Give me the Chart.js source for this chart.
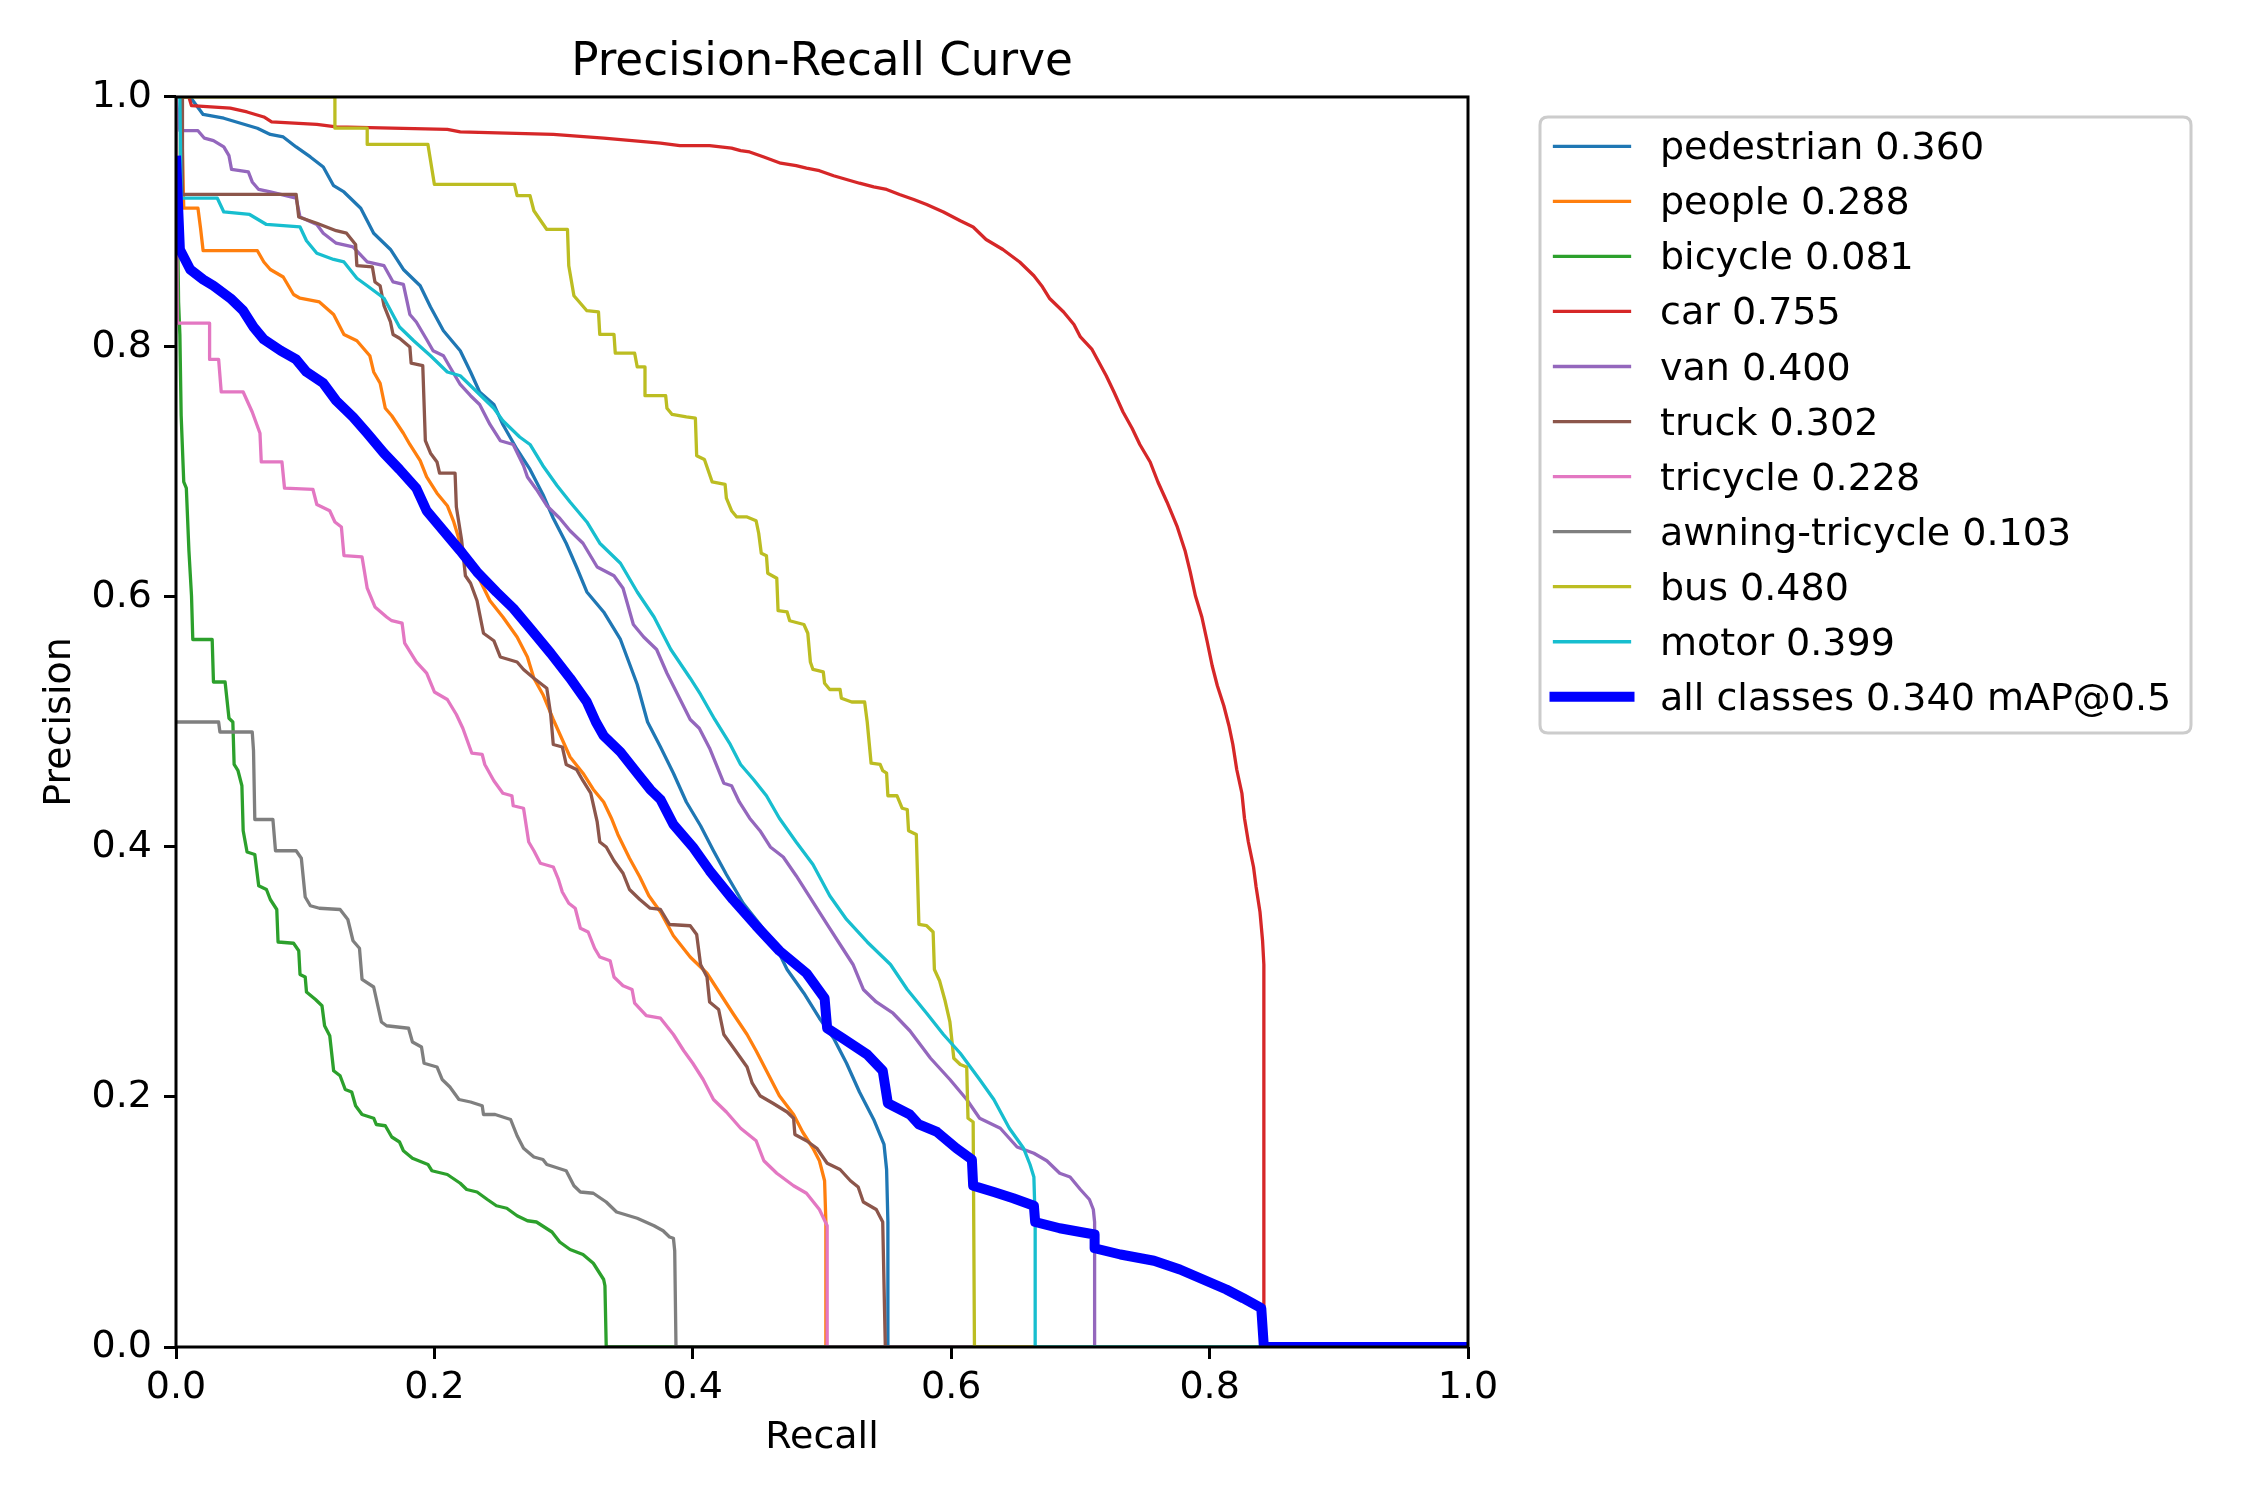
<!DOCTYPE html>
<html>
<head>
<meta charset="utf-8">
<script src="https://cdn.jsdelivr.net/npm/chart.js@4.4.1/dist/chart.umd.min.js"></script>
<style>
html,body{margin:0;padding:0;background:#ffffff;}
#c{display:block;}
</style>
</head>
<body>
<canvas id="c" width="2250" height="1500"></canvas>
<script>
// ---------- data ----------
const classNames = ['pedestrian','people','bicycle','car','van','truck','tricycle','awning-tricycle','bus','motor'];
const apValues   = [0.360, 0.288, 0.081, 0.755, 0.400, 0.302, 0.228, 0.103, 0.480, 0.399];
const mapAll = 0.340;
const xTicks = [0, 0.2, 0.4, 0.6, 0.8, 1.0];
const yTicks = [0, 0.2, 0.4, 0.6, 0.8, 1.0];

const pedestrianRecall = [0,0.011,0.021,0.037,0.063,0.073,0.083,0.093,0.104,0.114,0.122,0.130,0.143,0.153,0.166,0.176,0.189,0.197,0.207,0.220,0.228,0.235,0.246,0.253,0.264,0.274,0.284,0.292,0.302,0.310,0.318,0.331,0.344,0.357,0.365,0.375,0.385,0.395,0.406,0.416,0.426,0.439,0.452,0.465,0.473,0.486,0.498,0.509,0.519,0.529,0.540,0.548,0.550,0.551,0.551,1.0];
const pedestrianPrecision = [1,1,0.986,0.983,0.975,0.970,0.968,0.960,0.952,0.944,0.929,0.924,0.911,0.891,0.878,0.862,0.849,0.832,0.813,0.797,0.780,0.764,0.754,0.738,0.718,0.702,0.682,0.663,0.643,0.624,0.604,0.588,0.566,0.530,0.500,0.480,0.459,0.436,0.417,0.397,0.378,0.355,0.338,0.319,0.302,0.283,0.263,0.247,0.227,0.204,0.182,0.162,0.142,0.100,0,0];

const peopleRecall = [0,0.004,0.006,0.017,0.019,0.021,0.063,0.068,0.073,0.083,0.091,0.096,0.111,0.122,0.130,0.140,0.150,0.153,0.158,0.162,0.167,0.176,0.181,0.189,0.194,0.202,0.210,0.215,0.220,0.228,0.235,0.243,0.253,0.264,0.272,0.277,0.284,0.292,0.305,0.315,0.323,0.331,0.337,0.342,0.351,0.359,0.366,0.375,0.385,0.398,0.411,0.421,0.431,0.442,0.449,0.457,0.467,0.478,0.485,0.493,0.498,0.502,0.503,0.503,1.0];
const peoplePrecision = [1,1,0.911,0.911,0.895,0.877,0.877,0.868,0.862,0.856,0.842,0.839,0.836,0.826,0.810,0.805,0.793,0.780,0.771,0.751,0.745,0.731,0.722,0.709,0.696,0.683,0.673,0.660,0.643,0.627,0.614,0.597,0.584,0.568,0.552,0.535,0.522,0.502,0.472,0.459,0.446,0.436,0.423,0.410,0.391,0.376,0.361,0.348,0.329,0.312,0.299,0.283,0.267,0.250,0.237,0.221,0.201,0.186,0.172,0.159,0.149,0.133,0.100,0,0];

const bicycleRecall = [0,0.002,0.003,0.004,0.006,0.008,0.010,0.012,0.013,0.028,0.029,0.038,0.041,0.044,0.045,0.048,0.051,0.052,0.055,0.061,0.064,0.070,0.073,0.078,0.079,0.091,0.095,0.096,0.100,0.101,0.108,0.113,0.115,0.119,0.122,0.127,0.131,0.136,0.139,0.144,0.153,0.155,0.162,0.167,0.173,0.176,0.183,0.195,0.198,0.210,0.220,0.225,0.233,0.241,0.248,0.256,0.264,0.272,0.279,0.291,0.297,0.305,0.315,0.323,0.331,0.332,0.333,1.0];
const bicyclePrecision = [1,0.836,0.810,0.745,0.692,0.687,0.637,0.601,0.566,0.566,0.532,0.532,0.503,0.500,0.466,0.461,0.449,0.413,0.396,0.394,0.369,0.366,0.358,0.350,0.324,0.323,0.317,0.298,0.296,0.284,0.278,0.273,0.257,0.249,0.221,0.217,0.206,0.204,0.193,0.186,0.183,0.178,0.177,0.168,0.164,0.157,0.151,0.146,0.141,0.138,0.131,0.126,0.124,0.118,0.113,0.111,0.105,0.101,0.100,0.092,0.084,0.078,0.074,0.067,0.054,0.049,0,0];

const carRecall = [0,0.010,0.012,0.042,0.055,0.068,0.074,0.109,0.124,0.210,0.220,0.292,0.331,0.375,0.390,0.413,0.430,0.437,0.444,0.455,0.468,0.480,0.488,0.498,0.509,0.519,0.529,0.540,0.550,0.560,0.571,0.581,0.594,0.607,0.617,0.627,0.640,0.653,0.664,0.670,0.676,0.687,0.695,0.700,0.709,0.720,0.726,0.733,0.740,0.746,0.754,0.760,0.767,0.775,0.781,0.785,0.789,0.794,0.798,0.802,0.806,0.811,0.815,0.818,0.821,0.825,0.827,0.830,0.834,0.836,0.839,0.841,0.842,0.842,0.842,1.0];
const carPrecision = [1,1,0.993,0.991,0.988,0.984,0.980,0.978,0.976,0.974,0.972,0.970,0.967,0.963,0.961,0.961,0.959,0.957,0.956,0.952,0.947,0.945,0.943,0.941,0.937,0.934,0.931,0.928,0.926,0.922,0.918,0.914,0.908,0.901,0.896,0.886,0.878,0.868,0.857,0.849,0.839,0.828,0.818,0.808,0.798,0.777,0.764,0.748,0.735,0.722,0.708,0.692,0.676,0.656,0.637,0.620,0.601,0.584,0.565,0.545,0.529,0.513,0.497,0.482,0.462,0.443,0.423,0.404,0.384,0.368,0.348,0.325,0.306,0.038,0,0];

const vanRecall = [0,0.003,0.017,0.022,0.029,0.037,0.041,0.043,0.056,0.059,0.064,0.073,0.093,0.096,0.109,0.114,0.124,0.137,0.148,0.161,0.168,0.176,0.181,0.186,0.194,0.199,0.207,0.212,0.220,0.228,0.235,0.243,0.251,0.261,0.269,0.272,0.279,0.287,0.297,0.305,0.315,0.326,0.339,0.346,0.354,0.362,0.372,0.380,0.398,0.405,0.413,0.424,0.430,0.436,0.444,0.452,0.460,0.470,0.480,0.488,0.496,0.504,0.514,0.524,0.532,0.542,0.555,0.568,0.584,0.599,0.612,0.622,0.638,0.651,0.664,0.674,0.684,0.692,0.700,0.707,0.710,0.711,0.711,1.0];
const vanPrecision = [1,0.973,0.973,0.967,0.965,0.960,0.953,0.942,0.940,0.932,0.926,0.924,0.919,0.904,0.898,0.891,0.883,0.880,0.868,0.865,0.852,0.850,0.826,0.820,0.806,0.797,0.793,0.784,0.770,0.761,0.754,0.738,0.725,0.722,0.705,0.696,0.686,0.673,0.663,0.653,0.643,0.624,0.617,0.607,0.578,0.568,0.558,0.539,0.502,0.495,0.479,0.451,0.449,0.436,0.423,0.413,0.400,0.392,0.377,0.364,0.351,0.338,0.322,0.306,0.286,0.276,0.267,0.253,0.231,0.214,0.198,0.183,0.175,0.160,0.155,0.149,0.139,0.136,0.126,0.118,0.110,0.100,0,0];

const truckRecall = [0,0.005,0.005,0.093,0.095,0.109,0.124,0.132,0.139,0.140,0.152,0.154,0.158,0.161,0.166,0.168,0.173,0.181,0.182,0.191,0.193,0.197,0.202,0.204,0.216,0.217,0.221,0.224,0.228,0.233,0.238,0.246,0.251,0.264,0.269,0.277,0.287,0.290,0.292,0.299,0.302,0.310,0.315,0.321,0.326,0.328,0.333,0.339,0.346,0.351,0.359,0.367,0.375,0.382,0.398,0.403,0.406,0.411,0.413,0.420,0.424,0.431,0.442,0.446,0.452,0.462,0.473,0.478,0.479,0.488,0.496,0.504,0.514,0.522,0.528,0.532,0.542,0.547,0.549,1.0];
const truckPrecision = [1,1,0.922,0.922,0.904,0.899,0.893,0.891,0.882,0.865,0.864,0.852,0.849,0.833,0.820,0.810,0.807,0.800,0.787,0.785,0.725,0.715,0.708,0.699,0.699,0.672,0.646,0.617,0.611,0.597,0.571,0.565,0.552,0.548,0.542,0.535,0.527,0.506,0.482,0.480,0.466,0.462,0.453,0.443,0.420,0.404,0.400,0.389,0.379,0.366,0.358,0.351,0.350,0.338,0.337,0.330,0.306,0.296,0.276,0.270,0.250,0.240,0.224,0.211,0.201,0.195,0.188,0.183,0.170,0.165,0.159,0.147,0.142,0.133,0.128,0.116,0.110,0.100,0,0];

const tricycleRecall = [0,0.001,0.026,0.026,0.033,0.035,0.052,0.059,0.065,0.066,0.082,0.084,0.106,0.109,0.119,0.123,0.128,0.130,0.144,0.148,0.154,0.163,0.167,0.175,0.177,0.186,0.194,0.200,0.210,0.217,0.222,0.229,0.237,0.239,0.246,0.253,0.260,0.261,0.269,0.273,0.277,0.282,0.292,0.296,0.299,0.304,0.309,0.313,0.319,0.324,0.328,0.336,0.339,0.346,0.353,0.355,0.364,0.375,0.385,0.393,0.400,0.408,0.416,0.426,0.437,0.449,0.455,0.465,0.478,0.488,0.498,0.504,0.504,1.0];
const tricyclePrecision = [1,0.819,0.819,0.790,0.790,0.764,0.764,0.748,0.731,0.708,0.708,0.687,0.686,0.674,0.669,0.660,0.656,0.633,0.632,0.607,0.592,0.584,0.581,0.579,0.563,0.548,0.539,0.524,0.518,0.506,0.495,0.475,0.474,0.466,0.453,0.443,0.441,0.433,0.431,0.404,0.397,0.387,0.384,0.374,0.364,0.355,0.351,0.335,0.332,0.319,0.312,0.309,0.296,0.289,0.286,0.275,0.265,0.263,0.250,0.237,0.227,0.214,0.198,0.188,0.175,0.165,0.149,0.139,0.129,0.123,0.110,0.097,0,0];

const awningRecall = [0,0.033,0.034,0.059,0.060,0.061,0.075,0.077,0.093,0.097,0.100,0.104,0.111,0.127,0.133,0.137,0.142,0.144,0.153,0.159,0.163,0.180,0.183,0.190,0.192,0.202,0.206,0.212,0.219,0.228,0.237,0.238,0.247,0.259,0.264,0.269,0.277,0.284,0.287,0.302,0.308,0.313,0.323,0.333,0.341,0.357,0.370,0.377,0.382,0.385,0.386,0.387,1.0];
const awningPrecision = [0.500,0.500,0.492,0.492,0.477,0.422,0.422,0.397,0.397,0.391,0.360,0.353,0.351,0.350,0.342,0.325,0.319,0.294,0.288,0.260,0.257,0.255,0.244,0.240,0.227,0.224,0.214,0.208,0.198,0.196,0.193,0.186,0.186,0.182,0.169,0.159,0.152,0.150,0.146,0.141,0.129,0.124,0.123,0.116,0.108,0.103,0.097,0.093,0.088,0.087,0.077,0,0];

const busRecall = [0,0.123,0.123,0.148,0.148,0.195,0.200,0.262,0.264,0.274,0.277,0.287,0.303,0.304,0.308,0.318,0.327,0.328,0.339,0.340,0.355,0.357,0.363,0.363,0.379,0.380,0.384,0.395,0.402,0.403,0.409,0.415,0.425,0.426,0.430,0.434,0.442,0.449,0.451,0.453,0.457,0.458,0.465,0.466,0.473,0.475,0.486,0.489,0.491,0.493,0.501,0.502,0.506,0.514,0.515,0.523,0.533,0.535,0.538,0.545,0.547,0.550,0.551,0.558,0.562,0.566,0.567,0.573,0.575,0.581,0.586,0.587,0.591,0.595,0.599,0.602,0.607,0.612,0.613,0.617,0.618,1.0];
const busPrecision = [1,1,0.975,0.975,0.962,0.962,0.930,0.930,0.921,0.921,0.909,0.894,0.894,0.865,0.841,0.829,0.828,0.810,0.810,0.795,0.795,0.784,0.784,0.761,0.761,0.751,0.746,0.744,0.743,0.713,0.710,0.692,0.690,0.679,0.669,0.664,0.664,0.661,0.651,0.635,0.633,0.619,0.615,0.589,0.588,0.581,0.578,0.571,0.548,0.542,0.540,0.531,0.526,0.526,0.519,0.516,0.516,0.500,0.467,0.466,0.461,0.459,0.441,0.441,0.431,0.430,0.413,0.410,0.338,0.337,0.332,0.302,0.293,0.278,0.260,0.231,0.226,0.224,0.183,0.180,0,0];

const motorRecall = [0,0.003,0.004,0.032,0.037,0.057,0.070,0.096,0.101,0.109,0.122,0.130,0.140,0.148,0.161,0.173,0.184,0.197,0.210,0.220,0.233,0.246,0.253,0.266,0.274,0.284,0.295,0.305,0.318,0.328,0.344,0.357,0.370,0.383,0.398,0.406,0.417,0.429,0.437,0.447,0.457,0.467,0.480,0.493,0.506,0.519,0.535,0.553,0.566,0.581,0.594,0.607,0.622,0.633,0.645,0.656,0.661,0.664,0.665,0.665,1.0];
const motorPrecision = [1,1,0.919,0.919,0.908,0.906,0.898,0.896,0.885,0.875,0.870,0.868,0.855,0.849,0.839,0.816,0.805,0.793,0.780,0.777,0.764,0.751,0.741,0.728,0.722,0.705,0.689,0.676,0.660,0.643,0.627,0.604,0.584,0.558,0.535,0.522,0.502,0.482,0.466,0.454,0.441,0.423,0.404,0.386,0.361,0.342,0.324,0.306,0.286,0.267,0.250,0.235,0.214,0.198,0.175,0.159,0.146,0.136,0.100,0,0];

const allRecall = [0,0.003,0.011,0.021,0.029,0.042,0.052,0.060,0.068,0.081,0.093,0.101,0.114,0.124,0.137,0.148,0.161,0.173,0.186,0.194,0.207,0.220,0.233,0.248,0.261,0.274,0.290,0.305,0.318,0.325,0.331,0.344,0.357,0.367,0.375,0.385,0.400,0.413,0.431,0.449,0.467,0.488,0.502,0.504,0.516,0.535,0.547,0.551,0.568,0.575,0.589,0.604,0.616,0.617,0.633,0.648,0.664,0.665,0.684,0.700,0.711,0.711,0.731,0.757,0.777,0.795,0.813,0.826,0.840,0.842,1.0];
const allPrecision = [0.953,0.878,0.862,0.854,0.849,0.839,0.829,0.816,0.806,0.797,0.790,0.780,0.771,0.757,0.744,0.731,0.715,0.702,0.687,0.669,0.653,0.637,0.620,0.604,0.591,0.575,0.555,0.535,0.516,0.500,0.489,0.476,0.459,0.446,0.438,0.418,0.400,0.381,0.358,0.337,0.317,0.299,0.279,0.255,0.247,0.234,0.221,0.195,0.186,0.178,0.172,0.159,0.150,0.129,0.124,0.119,0.113,0.100,0.095,0.092,0.090,0.079,0.074,0.069,0.062,0.054,0.046,0.039,0.031,0,0];

// ---------- styling ----------
const FONT = "'DejaVu Sans', sans-serif";
const classColors = ['#1f77b4','#ff7f0e','#2ca02c','#d62728','#9467bd','#8c564b','#e377c2','#7f7f7f','#bcbd22','#17becf'];
const allColor = '#0000ff';

const recallSeries = [pedestrianRecall, peopleRecall, bicycleRecall, carRecall, vanRecall, truckRecall, tricycleRecall, awningRecall, busRecall, motorRecall];
const precisionSeries = [pedestrianPrecision, peoplePrecision, bicyclePrecision, carPrecision, vanPrecision, truckPrecision, tricyclePrecision, awningPrecision, busPrecision, motorPrecision];

function toPoints(rs, ps) {
  const n = Math.min(rs.length, ps.length);
  const out = [];
  for (let i = 0; i < n; i++) out.push({x: rs[i], y: ps[i]});
  return out;
}

const datasets = classNames.map((name, i) => ({
  label: name + ' ' + apValues[i].toFixed(3),
  data: toPoints(recallSeries[i], precisionSeries[i]),
  borderColor: classColors[i],
  backgroundColor: classColors[i],
  borderWidth: 3.3,
  pointRadius: 0,
  tension: 0,
  fill: false,
  clip: 0,
  borderJoinStyle: 'round',
  order: 20 - i
}));
datasets.push({
  label: 'all classes ' + mapAll.toFixed(3) + ' mAP@0.5',
  data: toPoints(allRecall, allPrecision),
  borderColor: allColor,
  backgroundColor: allColor,
  borderWidth: 10,
  pointRadius: 0,
  tension: 0,
  fill: false,
  clip: 0,
  borderJoinStyle: 'round',
  order: 1
});

const PLOT = {left: 176, right: 1468, top: 97, bottom: 1347};
const LABEL_SIZE = 38;

const framePlugin = {
  id: 'frame',
  afterDatasetsDraw(chart) {
    const {ctx, chartArea: a} = chart;
    ctx.save();
    ctx.strokeStyle = '#000';
    ctx.lineWidth = 3;
    ctx.strokeRect(a.left, a.top, a.right - a.left, a.bottom - a.top);
    ctx.restore();
  }
};

const legendPlugin = {
  id: 'mplLegend',
  afterDraw(chart) {
    const ctx = chart.ctx;
    const bx = 1540, by = 117, bw = 651, bh = 616, r = 8;
    ctx.save();
    ctx.beginPath();
    ctx.moveTo(bx + r, by);
    ctx.lineTo(bx + bw - r, by);
    ctx.quadraticCurveTo(bx + bw, by, bx + bw, by + r);
    ctx.lineTo(bx + bw, by + bh - r);
    ctx.quadraticCurveTo(bx + bw, by + bh, bx + bw - r, by + bh);
    ctx.lineTo(bx + r, by + bh);
    ctx.quadraticCurveTo(bx, by + bh, bx, by + bh - r);
    ctx.lineTo(bx, by + r);
    ctx.quadraticCurveTo(bx, by, bx + r, by);
    ctx.closePath();
    ctx.fillStyle = 'rgba(255,255,255,0.8)';
    ctx.fill();
    ctx.strokeStyle = '#cccccc';
    ctx.lineWidth = 3;
    ctx.stroke();

    ctx.font = LABEL_SIZE + 'px ' + FONT;
    ctx.textBaseline = 'alphabetic';
    ctx.textAlign = 'left';
    chart.data.datasets.forEach((ds, i) => {
      const y = 146.3 + i * 55.05;
      ctx.beginPath();
      ctx.lineCap = 'square';
      ctx.strokeStyle = ds.borderColor;
      ctx.lineWidth = ds.borderWidth;
      ctx.moveTo(1554.5, y);
      ctx.lineTo(1629.5, y);
      ctx.stroke();
      ctx.fillStyle = '#000';
      ctx.fillText(ds.label, 1660, y + 13);
    });
    ctx.restore();
  }
};

new Chart(document.getElementById('c'), {
  type: 'line',
  data: { datasets },
  plugins: [framePlugin, legendPlugin],
  options: {
    responsive: false,
    devicePixelRatio: 1,
    animation: false,
    parsing: false,
    events: [],
    layout: { padding: { left: 0, top: 0, right: 2250 - PLOT.right, bottom: 0 } },
    plugins: {
      legend: { display: false },
      tooltip: { enabled: false },
      title: {
        display: true,
        text: 'Precision-Recall Curve',
        fullSize: false,
        color: '#000',
        font: { family: FONT, size: 45.3, weight: 'normal', lineHeight: 1.2 },
        padding: { top: 36, bottom: 6.6 }
      }
    },
    scales: {
      x: {
        type: 'linear',
        min: 0, max: 1,
        afterBuildTicks(scale) { scale.ticks = xTicks.map(v => ({value: v})); },
        afterFit(scale) { scale.height = 1500 - PLOT.bottom; },
        ticks: {
          callback: v => Number(v).toFixed(1),
          color: '#000',
          font: { family: FONT, size: LABEL_SIZE, lineHeight: 1.2 },
          padding: 6,
          maxRotation: 0,
          autoSkip: false
        },
        grid: { display: true, drawOnChartArea: false, drawTicks: true, tickLength: 12, tickWidth: 3, tickColor: '#000' },
        border: { display: false },
        title: {
          display: true, text: 'Recall', color: '#000',
          font: { family: FONT, size: LABEL_SIZE, lineHeight: 1.2 },
          padding: { top: 0, bottom: 39 }
        }
      },
      y: {
        type: 'linear',
        min: 0, max: 1,
        afterBuildTicks(scale) { scale.ticks = yTicks.map(v => ({value: v})); },
        afterFit(scale) { scale.width = PLOT.left; },
        ticks: {
          callback: v => Number(v).toFixed(1),
          color: '#000',
          font: { family: FONT, size: LABEL_SIZE, lineHeight: 1.2 },
          padding: 12,
          autoSkip: false
        },
        grid: { display: true, drawOnChartArea: false, drawTicks: true, tickLength: 12, tickWidth: 3, tickColor: '#000' },
        border: { display: false },
        title: {
          display: true, text: 'Precision', color: '#000',
          font: { family: FONT, size: LABEL_SIZE, lineHeight: 1.2 },
          padding: { top: 37, bottom: 0 }
        }
      }
    }
  }
});
</script>
</body>
</html>
